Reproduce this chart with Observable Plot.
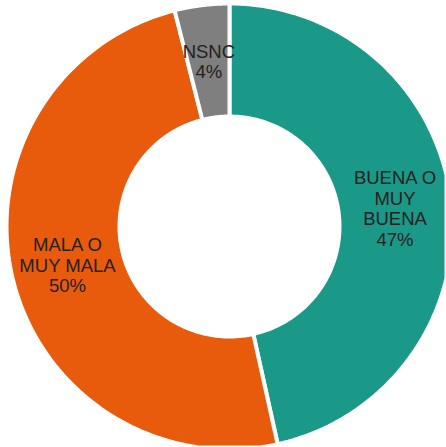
<!DOCTYPE html>
<html>
<head>
<meta charset="utf-8">
<script src="https://cdn.jsdelivr.net/npm/d3@7"></script>
<script src="https://cdn.jsdelivr.net/npm/@observablehq/plot@0.6"></script>
<style>
  html, body { margin: 0; padding: 0; background: #fff; }
  #chart svg { display: block; }
</style>
</head>
<body>
<div id="chart"></div>
<script>
const categories = ["BUENA O\nMUY\nBUENA", "MALA O\nMUY MALA", "NSNC"];
const values = [47, 50, 4];
const labels = ["47%", "50%", "4%"];
const colors = ["#1a9988", "#e95b0c", "#7f7f7f"];

const W = 446, H = 447;
const cx = 229, cy = 226;
const R = 223, r = 110;

const pie = d3.pie().sort(null).value(d => d.value);
const arcs = pie(categories.map((c, i) => ({category: c, value: values[i], label: labels[i], color: colors[i]})));

// screen-oriented coordinates (y down), angle 0 at 12 o'clock, clockwise
function ring(a0, a1) {
  const n = 120;
  const pts = [];
  for (let k = 0; k <= n; k++) {
    const a = a0 + (a1 - a0) * k / n;
    pts.push([R * Math.sin(a), -R * Math.cos(a)]);
  }
  for (let k = n; k >= 0; k--) {
    const a = a0 + (a1 - a0) * k / n;
    pts.push([r * Math.sin(a), -r * Math.cos(a)]);
  }
  pts.push(pts[0]);
  return pts;
}

const features = arcs.map(a => ({
  type: "Feature",
  properties: {category: a.data.category, color: a.data.color},
  geometry: {type: "Polygon", coordinates: [ring(a.startAngle, a.endAngle)]}
}));

const rm = (R + r) / 2;
const labelData = arcs.map(a => {
  const m = (a.startAngle + a.endAngle) / 2;
  return {text: a.data.category + "\n" + a.data.label, x: rm * Math.sin(m), y: -rm * Math.cos(m)};
});

// frame extent in data units (1 unit = 1 px)
const frame = {type: "MultiPoint", coordinates: [[-cx, -cy], [W - cx, H - cy]]};

const chart = Plot.plot({
  width: W,
  height: H,
  margin: 0,
  projection: {type: "identity", domain: frame},
  marks: [
    Plot.geo(features, {fill: d => d.properties.color, stroke: "white", strokeWidth: 4, strokeLinejoin: "miter"}),
    Plot.text(labelData, {x: "x", y: "y", text: "text", fontSize: 18.5, lineHeight: 1.12, fill: "#222", fontFamily: "Liberation Sans, Arial, sans-serif"})
  ],
  style: {fontFamily: "Liberation Sans, Arial, sans-serif", background: "white"}
});
document.getElementById("chart").appendChild(chart);
</script>
</body>
</html>
